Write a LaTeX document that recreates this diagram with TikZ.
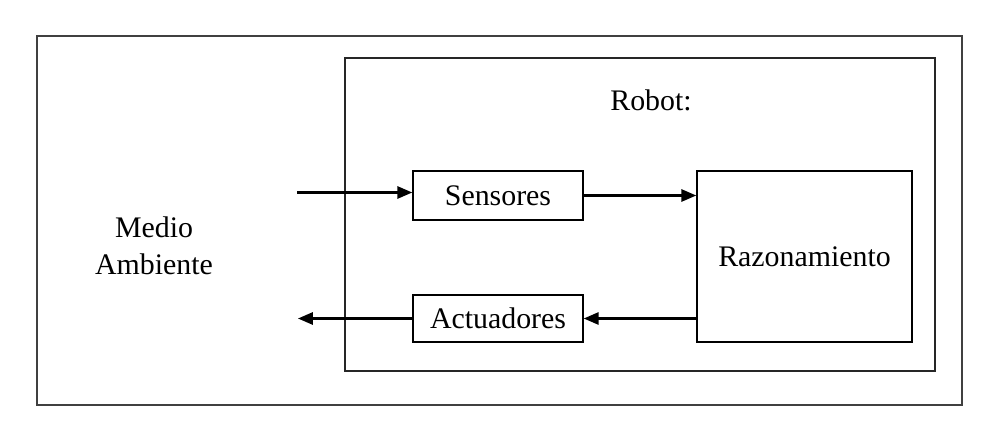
\documentclass[tikz,border=0pt]{standalone}
\usepackage{fontspec}
\setmainfont{Liberation Serif}
\usetikzlibrary{arrows.meta}
\begin{document}
\begin{tikzpicture}[x=0.02cm,y=-0.02cm,
  box/.style={draw=black,line width=0.9pt,inner sep=0pt,font=\fontsize{17}{21}\selectfont},
  frame/.style={draw=black!75,line width=1.1pt},
  conn/.style={line width=1.2pt,-{Triangle[length=8.5pt,width=7pt]}},
  lbl/.style={font=\fontsize{17}{21}\selectfont,inner sep=0pt}]
\useasboundingbox (0,0) rectangle (1000,432);
\fill[white] (0,0) rectangle (1000,432);
\draw[frame] (37,36) rectangle (962,405);
\draw[frame,draw=black!85] (345,58) rectangle (935,371);
\node[lbl] (robot) at (651,100) {Robot:};
\node[lbl,align=center] (medio) at (154,246) {Medio\\Ambiente};
\node[box,minimum width=3.4cm,minimum height=0.98cm] (sens) at (498,195.5) {Sensores};
\node[box,minimum width=3.4cm,minimum height=0.94cm] (act) at (498,318.5) {Actuadores};
\node[box,minimum width=4.3cm,minimum height=3.42cm] (raz) at (804.5,256.5) {Razonamiento};
\coordinate (in) at (297,192.5);
\coordinate (out) at (298,314);
\draw[conn] (in) -- (in -| sens.west);
\draw[conn] (sens.east) -- (sens.east -| raz.west);
\draw[conn] (act.east -| raz.west) -- (act.east);
\draw[conn] (act.west) -- (act.west -| out);
\end{tikzpicture}
\end{document}
